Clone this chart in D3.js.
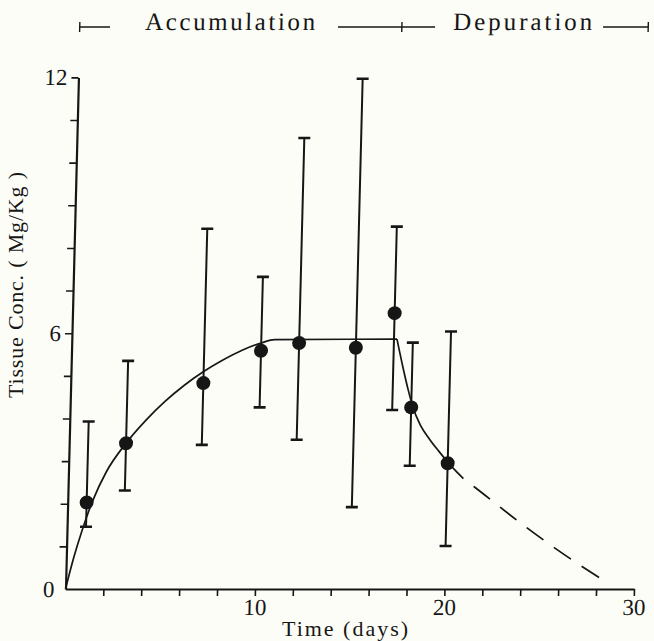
<!DOCTYPE html>
<html>
<head>
<meta charset="utf-8">
<script src="https://cdn.jsdelivr.net/npm/d3@7"></script>
<style>
  html, body { margin: 0; padding: 0; background: #fdfdf7; }
  svg { display: block; }
  text { font-family: "Liberation Serif", "DejaVu Serif", serif; fill: #161616; }
</style>
</head>
<body>
<div id="chart"></div>
<script>
// measured points (day, mean, upper / lower end of the error bar), Mg/Kg
var days = [1, 3, 7, 10, 12, 15, 17, 18, 20];
var meanConc = [2.03, 3.42, 4.83, 5.59, 5.77, 5.66, 6.47, 4.26, 2.95];
var upperConc = [3.93, 5.35, 8.45, 7.32, 10.58, 11.97, 8.50, 5.78, 6.04];
var lowerConc = [1.46, 2.31, 3.38, 4.26, 3.50, 1.92, 4.20, 2.89, 1.01];

// fitted uptake curve
var accCurveDay = [0, 0.4, 0.8, 1.3, 2.0, 3.0, 4.0, 5.0, 6.0, 7.0, 8.0, 9.0, 10.0, 10.7, 17.16];
var accCurveConc = [0, 0.75, 1.38, 2.05, 2.75, 3.42, 3.95, 4.40, 4.78, 5.10, 5.37, 5.60, 5.77, 5.85, 5.86];
// fitted depuration curve (solid part)
var depCurveDay = [17.16, 17.5, 17.8, 18.1, 18.5, 19.0, 19.5, 20.0, 20.5, 20.85];
var depCurveConc = [5.86, 5.22, 4.70, 4.25, 3.85, 3.52, 3.24, 2.98, 2.74, 2.59];
// projected depuration (dashed)
var projDay = [20.85, 21.48, 23.89, 25.51, 26.94, 28.28];
var projConc = [2.59, 2.38, 1.56, 1.04, 0.61, 0.23];

// phases shown in the bracket legend
var phaseNames = ['Accumulation', 'Depuration'];
var phaseBounds = [0, 17, 30];

// axis labels
var xTickLabels = [10, 20, 30];
var yTickLabels = [0, 6, 12];

(function () {
  'use strict';

  var width = 654;
  var height = 641;
  var ink = '#161616';
  var shear = 1.45; // the scanned figure leans to the right a little

  var x = d3.scaleLinear().domain([0, 30]).range([65.5, 634]);
  var y = d3.scaleLinear().domain([0, 12]).range([589, 77.4]);

  var svg = d3.select('#chart')
    .append('svg')
    .attr('width', width)
    .attr('height', height);

  svg.append('rect')
    .attr('width', width)
    .attr('height', height)
    .attr('fill', '#fdfdf7');

  // everything tied to the axes goes in the sheared group
  var plot = svg.append('g')
    .attr('transform', 'translate(' + (Math.tan(shear * Math.PI / 180) * y(0)) + ',0) skewX(' + (-shear) + ')');

  // x轴
  var xAxis = d3.axisBottom(x)
    .tickValues(d3.range(2, 31, 2))
    .tickSize(7)
    .tickSizeOuter(0)
    .tickPadding(3)
    .tickFormat(function (d) {
      return xTickLabels.indexOf(d) >= 0 ? d : '';
    });
  var gx = plot.append('g')
    .attr('transform', 'translate(0,' + y(0) + ')')
    .call(xAxis);

  // y轴
  var yAxis = d3.axisLeft(y)
    .tickValues(d3.range(0, 13, 1))
    .tickSize(7)
    .tickSizeOuter(0)
    .tickPadding(4)
    .tickFormat(function (d) {
      return yTickLabels.indexOf(d) >= 0 ? d : '';
    });
  var gy = plot.append('g')
    .attr('transform', 'translate(' + x(0) + ',0)')
    .call(yAxis);

  [gx, gy].forEach(function (g) {
    g.select('.domain').attr('stroke', ink).attr('stroke-width', 2.2);
    g.selectAll('.tick line').attr('stroke', ink).attr('stroke-width', 1.6);
    g.selectAll('.tick text')
      .attr('fill', ink)
      .style('font-family', '"Liberation Serif", serif')
      .style('font-size', '23px');
  });
  gy.selectAll('.tick').filter(function (d) { return d === 0; }).select('line').remove();

  // fitted curves
  var line = d3.line()
    .x(function (d) { return x(d[0]); })
    .y(function (d) { return y(d[1]); })
    .curve(d3.curveMonotoneX);

  plot.append('path')
    .datum(d3.zip(accCurveDay, accCurveConc))
    .attr('fill', 'none')
    .attr('stroke', ink)
    .attr('stroke-width', 1.7)
    .attr('d', line);

  plot.append('path')
    .datum(d3.zip(depCurveDay, depCurveConc))
    .attr('fill', 'none')
    .attr('stroke', ink)
    .attr('stroke-width', 1.7)
    .attr('d', line);

  plot.append('path')
    .datum(d3.zip(projDay, projConc))
    .attr('fill', 'none')
    .attr('stroke', ink)
    .attr('stroke-width', 1.7)
    .attr('stroke-dasharray', '21,13')
    .attr('stroke-dashoffset', 21)
    .attr('d', line);

  // error bars and points
  var pts = plot.selectAll('g.pt')
    .data(d3.range(days.length))
    .enter()
    .append('g')
    .attr('class', 'pt');

  pts.append('line')
    .attr('x1', function (i) { return x(days[i]); })
    .attr('x2', function (i) { return x(days[i]); })
    .attr('y1', function (i) { return y(lowerConc[i]); })
    .attr('y2', function (i) { return y(upperConc[i]); })
    .attr('stroke', ink)
    .attr('stroke-width', 2);

  [upperConc, lowerConc].forEach(function (arr) {
    pts.append('line')
      .attr('x1', function (i) { return x(days[i]) - 6; })
      .attr('x2', function (i) { return x(days[i]) + 6; })
      .attr('y1', function (i) { return y(arr[i]); })
      .attr('y2', function (i) { return y(arr[i]); })
      .attr('stroke', ink)
      .attr('stroke-width', 2.6);
  });

  pts.append('circle')
    .attr('cx', function (i) { return x(days[i]); })
    .attr('cy', function (i) { return y(meanConc[i]); })
    .attr('r', 7)
    .attr('fill', ink);

  // bracket legend along the top
  var legendY = 27;
  var labelDay = [7.93, 23.37];
  var labelWidth = [170, 139];
  var gapLeft = [35, 18];
  var gapRight = [23, 11];
  var legend = plot.append('g');

  phaseNames.forEach(function (name, i) {
    var cx = x(labelDay[i]);
    legend.append('text')
      .attr('x', cx)
      .attr('y', legendY + 3)
      .attr('text-anchor', 'middle')
      .attr('textLength', labelWidth[i])
      .attr('lengthAdjust', 'spacing')
      .style('font-size', '25px')
      .text(name);
    legend.append('line')
      .attr('x1', x(phaseBounds[i]))
      .attr('x2', cx - labelWidth[i] / 2 - gapLeft[i])
      .attr('y1', legendY).attr('y2', legendY)
      .attr('stroke', ink).attr('stroke-width', 1.6);
    legend.append('line')
      .attr('x1', cx + labelWidth[i] / 2 + gapRight[i])
      .attr('x2', x(phaseBounds[i + 1]))
      .attr('y1', legendY).attr('y2', legendY)
      .attr('stroke', ink).attr('stroke-width', 1.6);
  });

  legend.selectAll('line.bound')
    .data(phaseBounds)
    .enter()
    .append('line')
    .attr('class', 'bound')
    .attr('x1', function (d) { return x(d); })
    .attr('x2', function (d) { return x(d); })
    .attr('y1', legendY - 5)
    .attr('y2', legendY + 5)
    .attr('stroke', ink)
    .attr('stroke-width', 1.4);

  // axis titles
  svg.append('text')
    .attr('x', 345)
    .attr('y', 636)
    .attr('text-anchor', 'middle')
    .attr('textLength', 126)
    .attr('lengthAdjust', 'spacing')
    .style('font-size', '22px')
    .text('Time (days)');

  svg.append('text')
    .attr('transform', 'translate(23,285) rotate(-90)')
    .attr('text-anchor', 'middle')
    .attr('textLength', 226)
    .attr('lengthAdjust', 'spacing')
    .style('font-size', '22px')
    .text('Tissue Conc. ( Mg/Kg )');
})();
</script>
</body>
</html>
